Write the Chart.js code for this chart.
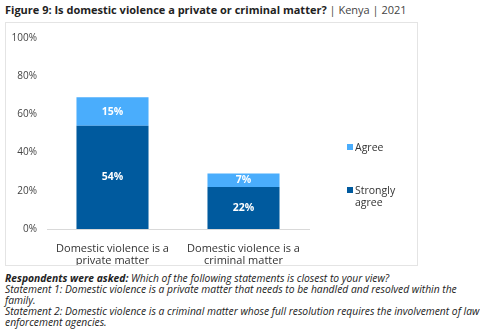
<!DOCTYPE html>
<html>
<head>
<meta charset="utf-8">
<script src="https://cdn.jsdelivr.net/npm/chart.js@4"></script>
<style>
  body { margin: 0; background: #fff; font-family: "Open Sans", sans-serif; color: #222; }
  #wrap { position: relative; width: 480px; height: 330px; }
  .title { position: absolute; left: 5px; top: 2px; font-size: 11px; font-weight: bold; white-space: nowrap; }
  .title span { font-weight: normal; color: #444; }
  .box { position: absolute; left: 5px; top: 22px; width: 411px; height: 242px; border: 1px solid #e4e4e4; }
  #chartBox { position: absolute; left: 5px; top: 22px; width: 412px; height: 243px; }
  .legend { position: absolute; left: 347px; font-size: 10.5px; color: #333; line-height: 12px; }
  .legend i { position: absolute; left: 0; top: 3px; width: 6px; height: 6px; }
  .legend div { padding-left: 8px; }
  .notes { position: absolute; left: 5px; top: 273px; white-space: nowrap; font-size: 10.3px; font-style: italic; line-height: 11px; color: #222; }
</style>
</head>
<body>
<div id="wrap">
  <div class="title">Figure 9: Is domestic violence a private or criminal matter? <span>| Kenya | 2021</span></div>
  <div class="box"></div>
  <div id="chartBox"><canvas id="chart" width="412" height="243"></canvas></div>
  <div class="legend" style="top:141px"><i style="background:#4aadfc"></i><div>Agree</div></div>
  <div class="legend" style="top:184px"><i style="background:#005a9e"></i><div>Strongly<br>agree</div></div>
  <div class="notes">
    <b>Respondents were asked:</b> Which of the following statements is closest to your view?<br>
    Statement 1: Domestic violence is a private matter that needs to be handled and resolved within the<br>
    family.<br>
    Statement 2: Domestic violence is a criminal matter whose full resolution requires the involvement of law<br>
    enforcement agencies.
  </div>
</div>
<script>
const categories = [
  ['Domestic violence is a', 'private matter'],
  ['Domestic violence is a', 'criminal matter']
];
const stronglyAgree = [54, 22];
const agree = [15, 7];
const yTicks = [0, 20, 40, 60, 80, 100];

// white bold percentage inside each bar segment
const barLabels = {
  id: 'barLabels',
  afterDatasetsDraw(chart) {
    const ctx = chart.ctx;
    ctx.save();
    ctx.fillStyle = '#fff';
    ctx.font = 'bold 10.5px "Open Sans", sans-serif';
    ctx.textAlign = 'center';
    ctx.textBaseline = 'middle';
    chart.data.datasets.forEach((ds, i) => {
      chart.getDatasetMeta(i).data.forEach((bar, j) => {
        const mid = (bar.y + bar.base) / 2;
        ctx.fillText(ds.data[j] + '%', bar.x, mid);
      });
    });
    ctx.restore();
  }
};

new Chart(document.getElementById('chart'), {
  type: 'bar',
  data: {
    labels: categories,
    datasets: [
      { label: 'Strongly agree', data: stronglyAgree, backgroundColor: '#005a9e' },
      { label: 'Agree', data: agree, backgroundColor: '#4aadfc' }
    ]
  },
  options: {
    responsive: false,
    animation: false,
    layout: { padding: { top: 10, right: 108, left: 0, bottom: 0 } },
    categoryPercentage: 1,
    barPercentage: 0.55,
    plugins: { legend: { display: false }, tooltip: { enabled: false } },
    scales: {
      x: {
        stacked: true,
        clip: false,
        grid: { display: false },
        border: { color: '#d9d9d9', width: 1 },
        ticks: { color: '#333', font: { size: 11, family: 'Open Sans', lineHeight: 1.1 }, padding: 6, maxRotation: 0 },
        afterFit(s) { s.height = 36; }
      },
      y: {
        stacked: true,
        clip: false,
        min: 0, max: 100,
        afterBuildTicks(s) { s.ticks = yTicks.map(v => ({ value: v })); },
        grid: { display: false, drawTicks: false },
        border: { display: false },
        ticks: { color: '#444', font: { size: 10, family: 'Open Sans' }, padding: 10, callback: v => v + '%' },
        afterFit(s) { s.width = 42; }
      }
    }
  },
  plugins: [barLabels]
});
</script>
</body>
</html>
